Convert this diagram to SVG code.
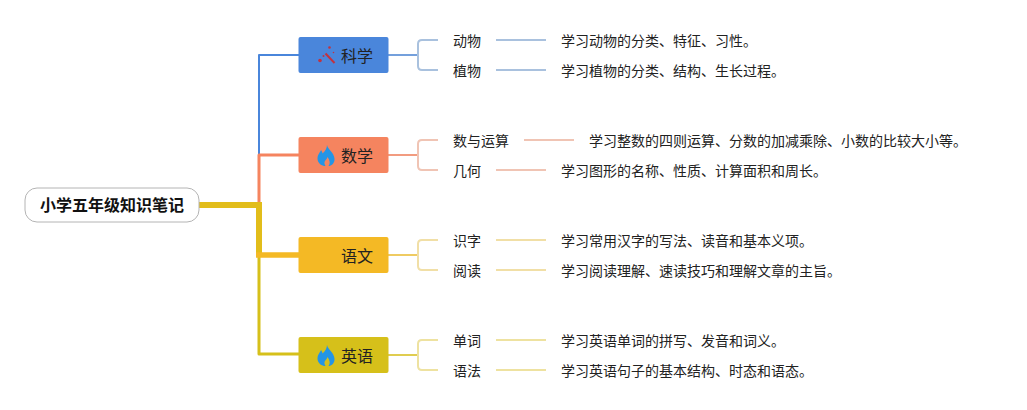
<svg xmlns="http://www.w3.org/2000/svg" width="1027" height="410" viewBox="0 0 1027 410">
<style>
text{font-family:"Noto Sans CJK SC","Noto Sans",sans-serif;fill:#222}
.n{font-size:16px}
.l{font-size:14px}
.c{fill:none;stroke-linejoin:round;stroke-width:2}
.flame{fill:#2395e6}
.wand{fill:none;stroke:#c2323f;stroke-width:2}
.spark{fill:#c2323f}
</style>
<defs>
<path id="flame" class="flame" d="M1-10.500C2-6 8-3 8.500 3C9 8 5 10.500 2.500 10.500C4.500 8 4 5 1.500 1.500C1 4 -1 4.500 -1.500 6.500C-1.800 8 -1 9.500 -.5 10.500C-4 10.500-8.500 8-8.500 3C-8.500-1-6-3-5-5.500C-4-4-3.500-3-3.500-2C-1-4 1-7 1-10.500Z"/>
</defs>
<rect width="1027" height="410" fill="#fff"/>
<g id="connectors">
<path class="c" d="M299 55H259V155" stroke="#4a86db"/>
<path class="c" d="M299 155H259V205" stroke="#f5845f" style="stroke-width:3"/>
<path class="c" d="M259 255V354H299" stroke="#d6c01a" style="stroke-width:3"/>
<path class="c" d="M199 205H259V255" stroke="#e2bd1a" style="stroke-width:6;stroke-linejoin:miter"/>
<path class="c" d="M256 255H299" stroke="#f4b925" style="stroke-width:5.500"/>
<path class="c" d="M388 55H418" stroke="#74a0dc"/>
<path class="c" d="M438 40H422Q418 40 418 44V66Q418 70 422 70H438M496 40H546M496 70H546" stroke="#a9c1de"/>
<path class="c" d="M388 155H418" stroke="#f29c80"/>
<path class="c" d="M438 140H422Q418 140 418 144V166Q418 170 422 170H438M524 140H574M496 170H546" stroke="#f0c4b4"/>
<path class="c" d="M388 255H418" stroke="#efcb62"/>
<path class="c" d="M438 240H422Q418 240 418 244V266Q418 270 422 270H438M496 240H546M496 270H546" stroke="#f1dfa6"/>
<path class="c" d="M388 355H418" stroke="#e0cd50"/>
<path class="c" d="M438 340H422Q418 340 418 344V366Q418 370 422 370H438M496 340H546M496 370H546" stroke="#eee2a0"/>
</g>
<g id="root">
<rect x="25" y="188" width="174" height="34" rx="12" fill="#fff" stroke="#b4b4b4"/>
<text x="40" y="211" font-size="16" font-weight="700" style="fill:#111">小学五年级知识笔记</text>
</g>
<g id="science">
<rect x="298.500" y="37" width="90" height="36" rx="2" fill="#4a86db"/>
<path class="wand" d="M325.500 53.500L334.500 63"/>
<circle class="spark" cx="320" cy="60.500" r="1.800"/>
<circle class="spark" cx="323.500" cy="56" r="1"/>
<circle class="spark" cx="329.500" cy="47.500" r="1.300"/>
<circle class="spark" cx="333.500" cy="52.500" r=".8"/>
<text class="n" x="341" y="62">科学</text>
</g>
<g id="math">
<rect x="298.500" y="137" width="90" height="36" rx="2" fill="#f5845f"/>
<use href="#flame" x="326" y="155.500"/>
<text class="n" x="341" y="162">数学</text>
</g>
<g id="chinese">
<rect x="298.500" y="237" width="90" height="36" rx="2" fill="#f4b925"/>
<text class="n" x="341" y="262">语文</text>
</g>
<g id="english">
<rect x="298.500" y="337" width="90" height="36" rx="2" fill="#d6c01a"/>
<use href="#flame" x="326" y="355.500"/>
<text class="n" x="341" y="362">英语</text>
</g>
<g id="leaf-animals"><text class="l" x="453" y="46">动物</text></g>
<g id="note-animals"><text class="l" x="561" y="46">学习动物的分类、特征、习性。</text></g>
<g id="leaf-plants"><text class="l" x="453" y="76">植物</text></g>
<g id="note-plants"><text class="l" x="561" y="76">学习植物的分类、结构、生长过程。</text></g>
<g id="leaf-arith"><text class="l" x="453" y="146">数与运算</text></g>
<g id="note-arith"><text class="l" x="589" y="146">学习整数的四则运算、分数的加减乘除、小数的比较大小等。</text></g>
<g id="leaf-geo"><text class="l" x="453" y="176">几何</text></g>
<g id="note-geo"><text class="l" x="561" y="176">学习图形的名称、性质、计算面积和周长。</text></g>
<g id="leaf-char"><text class="l" x="453" y="246">识字</text></g>
<g id="note-char"><text class="l" x="561" y="246">学习常用汉字的写法、读音和基本义项。</text></g>
<g id="leaf-read"><text class="l" x="453" y="276">阅读</text></g>
<g id="note-read"><text class="l" x="561" y="276">学习阅读理解、速读技巧和理解文章的主旨。</text></g>
<g id="leaf-word"><text class="l" x="453" y="346">单词</text></g>
<g id="note-word"><text class="l" x="561" y="346">学习英语单词的拼写、发音和词义。</text></g>
<g id="leaf-gram"><text class="l" x="453" y="376">语法</text></g>
<g id="note-gram"><text class="l" x="561" y="376">学习英语句子的基本结构、时态和语态。</text></g>
</svg>
